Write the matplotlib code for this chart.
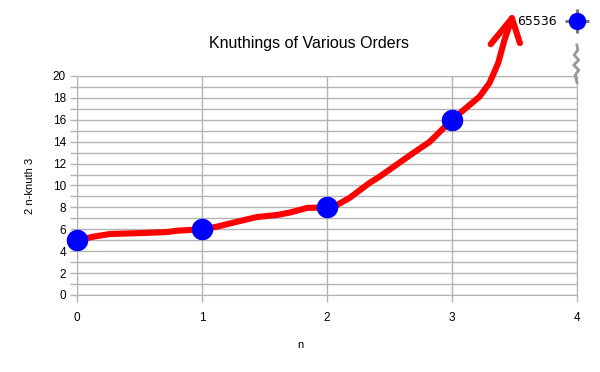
import matplotlib
matplotlib.use("Agg")
import matplotlib.pyplot as plt
from matplotlib.ticker import MultipleLocator

plt.rcParams['font.family'] = ['Liberation Sans', 'DejaVu Sans']

# data points
n_vals = [0, 1, 2, 3]
knuth_vals = [5, 6, 8, 16]
break_label = "65536"
break_y = 25

# hand drawn red curve
curve_x = [0.0, 0.128, 0.264, 0.528, 0.72, 0.8, 1.0, 1.12, 1.28, 1.44, 1.6, 1.70, 1.84,
           2.0, 2.08, 2.18, 2.34, 2.42, 2.69, 2.82, 3.0, 3.22, 3.30, 3.37, 3.42, 3.48]
curve_y = [5.0, 5.32, 5.57, 5.66, 5.75, 5.87, 6.0, 6.24, 6.69, 7.12, 7.31, 7.52, 7.95,
           8.0, 8.22, 8.86, 10.23, 10.8, 12.97, 13.97, 16.0, 18.11, 19.36, 21.19, 23.29, 25.27]
barb_left_x = [3.31, 3.345, 3.48]
barb_left_y = [22.9, 23.4, 25.27]
barb_right_x = [3.48, 3.544]
barb_right_y = [25.27, 23.0]

# axis break squiggle
wave_x = [4.0, 4.006, 3.978, 4.014, 3.974, 4.014, 3.986, 4.0]
wave_y = [22.83, 22.37, 21.92, 21.46, 21.0, 20.55, 20.09, 19.4]

grid_col = "#b3b3b3"

fig = plt.figure(figsize=(6, 3.72), dpi=100)
ax = fig.add_axes([0.1283, 0.2070, 0.8333, 0.5887])

ax.set_xlim(0, 4)
ax.set_ylim(0, 20)
ax.xaxis.set_major_locator(MultipleLocator(1))
ax.yaxis.set_major_locator(MultipleLocator(2))
ax.yaxis.set_minor_locator(MultipleLocator(1))
ax.grid(True, which="both", color=grid_col, lw=1)
ax.set_axisbelow(True)
for s in ax.spines.values():
    s.set_color(grid_col)
ax.tick_params(which="both", color=grid_col, length=5, width=1, labelsize=8.5)
ax.tick_params(axis="x", pad=7)
ax.tick_params(axis="y", pad=3)

ax.plot(curve_x, curve_y, color="red", lw=4.4, solid_capstyle="round",
        solid_joinstyle="round", clip_on=False, zorder=3)
ax.plot(barb_left_x, barb_left_y, color="red", lw=4.4, solid_capstyle="round",
        solid_joinstyle="round", clip_on=False, zorder=3)
ax.plot(barb_right_x, barb_right_y, color="red", lw=4.4, solid_capstyle="round",
        clip_on=False, zorder=3)

ax.plot(n_vals, knuth_vals, "o", color="#0000ff", ms=14.5, clip_on=False, zorder=4)

# axis break marker at top right
ax.plot(wave_x, wave_y, color="#999999", lw=2, clip_on=False, zorder=3)
ax.plot(4, break_y, "+", color="#777777", ms=17, mew=2.2, clip_on=False, zorder=3)
ax.plot(4, break_y, "o", color="#0000ff", ms=11.5, clip_on=False, zorder=4)
ax.text(3.84, break_y, break_label, ha="right", va="center", fontsize=9,
        family="DejaVu Sans")

fig.text(0.515, 0.884, "Knuthings of Various Orders", ha="center", va="center", fontsize=11.5)
fig.text(0.5, 0.073, "n", ha="center", va="center", fontsize=8)
fig.text(0.05, 0.50, "2 n-knuth 3", ha="center", va="center", fontsize=8, rotation=90)

fig.savefig("out.png", dpi=100)
